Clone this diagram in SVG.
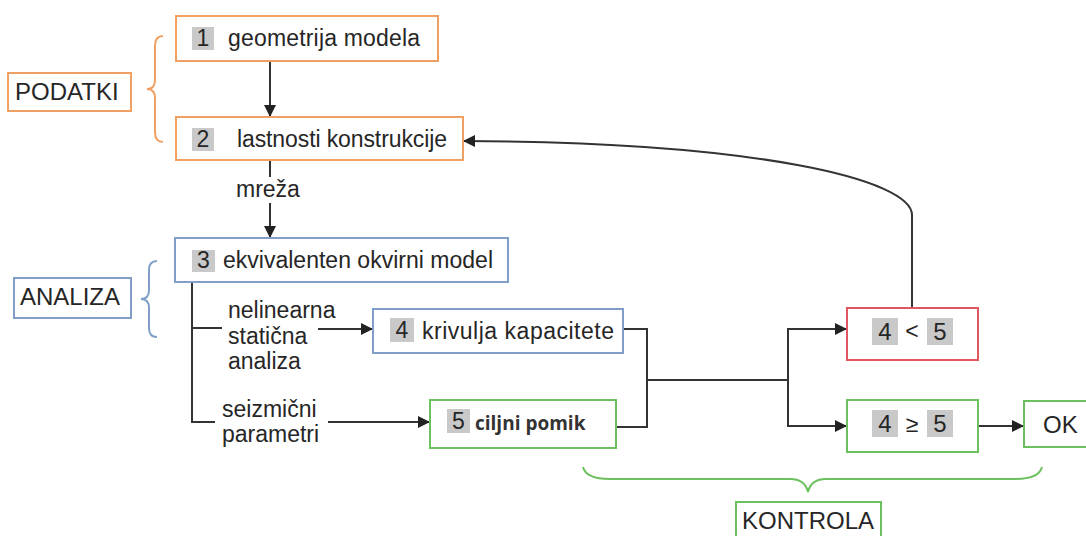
<svg xmlns="http://www.w3.org/2000/svg" width="1086" height="536" viewBox="0 0 1086 536">
<defs>
<marker id="arr" markerUnits="userSpaceOnUse" markerWidth="13" markerHeight="12" refX="12" refY="6" orient="auto">
<path d="M0 0 L12 6 L0 12 z" fill="#222"/>
</marker>
</defs>
<style>
text{font-family:"Liberation Sans",Arial,sans-serif;fill:#262626;font-size:23px}
.lbl{font-size:24px}
.o{fill:#fff;stroke:#F0A062;stroke-width:2}
.b{fill:#fff;stroke:#7F9FC8;stroke-width:2}
.g{fill:#fff;stroke:#6CC05E;stroke-width:2}
.r{fill:#fff;stroke:#E0575F;stroke-width:2}
.sq{fill:#C9C9C9}
.c{fill:none;stroke:#333;stroke-width:2}
.ca{fill:none;stroke:#333;stroke-width:2;marker-end:url(#arr)}
.br{fill:none;stroke-width:2}
.mid{text-anchor:middle}
.bold{font-family:"Open Sans","Noto Sans",sans-serif;font-weight:bold;font-size:19px;fill:#333}
</style>
<rect width="1086" height="536" fill="#fff"/>

<g id="connectors">
<line class="ca" x1="270" y1="61" x2="270" y2="117"/>
<line class="c" x1="270" y1="160" x2="270" y2="177"/>
<line class="ca" x1="270" y1="203" x2="270" y2="238"/>
<path class="c" d="M192 282 V422 H215"/>
<line class="c" x1="192" y1="328" x2="222" y2="328"/>
<line class="ca" x1="318" y1="329" x2="373" y2="329"/>
<line class="ca" x1="328" y1="422" x2="430" y2="422"/>
<path class="c" d="M623 329 H647 V427 H616"/>
<line class="c" x1="647" y1="380" x2="788" y2="380"/>
<path class="ca" d="M788 380 V329 H847"/>
<path class="ca" d="M788 380 V426 H847"/>
<line class="ca" x1="978" y1="426" x2="1024" y2="426"/>
<path class="ca" d="M912 308 V215 C912 180 760 142 463 141"/>
</g>

<g id="podatki">
<rect class="o" x="8" y="73" width="123" height="38"/>
<text class="lbl" x="15" y="100">PODATKI</text>
</g>
<g id="brace-podatki">
<path class="br" stroke="#F0A062" d="M163 36 Q155 36 155 46 L155 80 Q155 89 147 89 Q155 89 155 98 L155 132 Q155 142 163 142"/>
</g>

<g id="analiza">
<rect class="b" x="14" y="278" width="117" height="40"/>
<text class="lbl" x="20" y="305">ANALIZA</text>
</g>
<g id="brace-analiza">
<path class="br" stroke="#7F9FC8" d="M157 261 Q149 261 149 270 L149 290 Q149 299 141 299 Q149 299 149 308 L149 328 Q149 337 157 337"/>
</g>

<g id="node1">
<rect class="o" x="176" y="16" width="262" height="45"/>
<rect class="sq" x="192" y="27" width="22" height="23"/>
<text class="mid" x="203" y="46">1</text>
<text x="228" y="46" textLength="192">geometrija modela</text>
</g>

<g id="node2">
<rect class="o" x="176" y="117" width="287" height="43"/>
<rect class="sq" x="192" y="128" width="22" height="23"/>
<text class="mid" x="203" y="147">2</text>
<text x="237" y="147" textLength="210">lastnosti konstrukcije</text>
</g>

<g id="label-mreza">
<text x="236" y="197">mreža</text>
</g>

<g id="node3">
<rect class="b" x="175" y="238" width="333" height="44"/>
<rect class="sq" x="192" y="250" width="23" height="22"/>
<text class="mid" x="203.5" y="268">3</text>
<text x="223" y="268" textLength="270">ekvivalenten okvirni model</text>
</g>

<g id="label-nsa">
<text x="228" y="318">nelinearna</text>
<text x="228" y="344">statična</text>
<text x="228" y="369">analiza</text>
</g>

<g id="label-sp">
<text x="222" y="417">seizmični</text>
<text x="222" y="442">parametri</text>
</g>

<g id="node4">
<rect class="b" x="373" y="309" width="250" height="44"/>
<rect class="sq" x="390" y="318" width="24" height="24"/>
<text class="mid" x="402" y="338">4</text>
<text x="422" y="339" textLength="192">krivulja kapacitete</text>
</g>

<g id="node5">
<rect class="g" x="430" y="400" width="186" height="48"/>
<rect class="sq" x="447" y="409" width="23" height="24"/>
<text class="mid" x="458.5" y="429">5</text>
<text class="bold" x="475" y="430">ciljni pomik</text>
</g>

<g id="node-lt">
<rect class="r" x="847" y="308" width="131" height="52"/>
<rect class="sq" x="872" y="318" width="26" height="27"/>
<rect class="sq" x="927" y="318" width="26" height="27"/>
<text class="mid lbl" x="885" y="340">4</text>
<text class="mid" x="912" y="339">&lt;</text>
<text class="mid lbl" x="940" y="340">5</text>
</g>

<g id="node-ge">
<rect class="g" x="847" y="400" width="131" height="52"/>
<rect class="sq" x="872" y="410" width="26" height="27"/>
<rect class="sq" x="927" y="410" width="26" height="27"/>
<text class="mid lbl" x="885" y="432">4</text>
<text class="mid" x="912" y="432">≥</text>
<text class="mid lbl" x="940" y="432">5</text>
</g>

<g id="node-ok">
<rect class="g" x="1024" y="401" width="64" height="46"/>
<text class="lbl" x="1043" y="433">OK</text>
</g>

<g id="brace-kontrola">
<path class="br" stroke="#6CC05E" d="M583 467 Q586 479 610 479 L790 479 Q805 479 808 492 Q811 479 826 479 L1015 479 Q1039 479 1042 467"/>
</g>

<g id="kontrola">
<rect class="g" x="736" y="502" width="145" height="40"/>
<text class="lbl" x="742" y="529">KONTROLA</text>
</g>
</svg>
